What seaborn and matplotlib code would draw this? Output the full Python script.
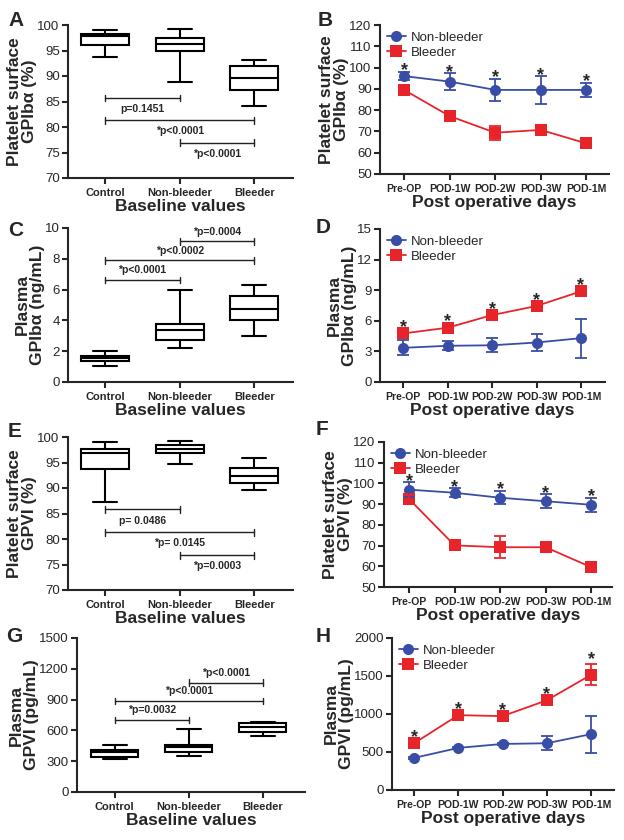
import pandas as pd
import matplotlib.pyplot as plt
import seaborn as sns

sns.set_style('ticks')
plt.rcParams['font.family'] = ['Liberation Sans', 'DejaVu Sans']
plt.rcParams['axes.linewidth'] = 1.5
plt.rcParams['xtick.major.width'] = 1.5
plt.rcParams['ytick.major.width'] = 1.5
plt.rcParams['xtick.major.size'] = 4
plt.rcParams['ytick.major.size'] = 4

LABEL_FONT = ['Liberation Sans Narrow', 'Liberation Sans', 'DejaVu Sans']

groups = ["Control", "Non-bleeder", "Bleeder"]
days = ["Pre-OP", "POD-1W", "POD-2W", "POD-3W", "POD-1M"]

# baseline box plots: five-number summary (min, q1, median, q3, max)
a_control = [93.8, 96.0, 97.9, 98.2, 99.0]
a_nonbleeder = [88.9, 95.0, 96.3, 97.4, 99.2]
a_bleeder = [84.1, 87.2, 89.7, 91.9, 93.1]
a_pvals = ["p=0.1451", "*p<0.0001", "*p<0.0001"]

c_control = [1.07, 1.37, 1.54, 1.72, 2.02]
c_nonbleeder = [2.24, 2.72, 3.37, 3.74, 5.98]
c_bleeder = [2.98, 4.02, 4.72, 5.59, 6.30]
c_pvals = ["*p<0.0001", "*p<0.0002", "*p=0.0004"]

e_control = [87.3, 93.8, 96.9, 97.7, 99.0]
e_nonbleeder = [94.8, 96.9, 97.7, 98.5, 99.2]
e_bleeder = [89.6, 91.0, 92.3, 94.0, 95.9]
e_pvals = ["p= 0.0486", "*p= 0.0145", "*p=0.0003"]

g_control = [321, 341, 390, 409, 458]
g_nonbleeder = [350, 390, 438, 458, 613]
g_bleeder = [545, 587, 636, 672, 682]
g_pvals = ["*p=0.0032", "*p<0.0001", "*p<0.0001"]

# post operative time course: mean and error
b_nb_mean = [96.0, 93.4, 89.5, 89.5, 89.5]
b_nb_err = [2.0, 3.9, 5.3, 6.4, 3.4]
b_bl_mean = [89.5, 77.2, 69.4, 70.7, 64.4]
b_bl_err = [1.0, 1.5, 3.3, 1.5, 1.0]

d_nb_mean = [3.35, 3.55, 3.6, 3.87, 4.3]
d_nb_err = [0.75, 0.45, 0.7, 0.8, 1.9]
d_bl_mean = [4.76, 5.32, 6.56, 7.45, 8.89]
d_bl_err = [0.12, 0.12, 0.12, 0.12, 0.12]

f_nb_mean = [97.0, 95.5, 93.1, 91.4, 89.7]
f_nb_err = [3.6, 2.2, 3.2, 3.3, 3.3]
f_bl_mean = [92.5, 70.1, 69.2, 69.2, 59.6]
f_bl_err = [1.7, 1.2, 5.2, 1.5, 1.5]

h_nb_mean = [422, 554, 606, 615, 735]
h_nb_err = [10, 10, 10, 95, 245]
h_bl_mean = [615, 985, 972, 1180, 1515]
h_bl_err = [15, 15, 15, 15, 137]

palette = {"Non-bleeder": "#3a4da6", "Bleeder": "#e8242b"}

W, H = 624, 840
fig = plt.figure(figsize=(W / 100, H / 100), dpi=100)


def add_ax(left, top, right, bottom):
    return fig.add_axes([left / W, 1 - bottom / H, (right - left) / W, (bottom - top) / H])


def style_ax(ax, ylim, yticks, ylabel, xlabel, xlim, xfs):
    sns.despine(ax=ax)
    ax.set_ylim(*ylim)
    ax.set_yticks(yticks)
    ax.set_xlim(*xlim)
    ax.set_ylabel(ylabel, fontsize=12.5, fontweight='bold', labelpad=0, linespacing=1.0,
                  family=LABEL_FONT)
    ax.set_xlabel(xlabel, fontsize=12.5, fontweight='bold', labelpad=1, family=LABEL_FONT)
    ax.tick_params(axis='y', labelsize=9.5, pad=2)
    ax.tick_params(axis='x', labelsize=xfs, pad=3)
    for t in ax.get_xticklabels():
        t.set_fontweight('bold')


def bracket(ax, x0, x1, y, label, offset):
    lo, hi = ax.get_ylim()
    cap = (hi - lo) * 0.022
    ax.plot([x0, x1], [y, y], color='#222222', lw=1.0)
    ax.plot([x0, x0], [y - cap, y + cap], color='#222222', lw=1.0)
    ax.plot([x1, x1], [y - cap, y + cap], color='#222222', lw=1.0)
    ax.annotate(label, xy=((x0 + x1) / 2, y), xytext=(0, offset), textcoords='offset points',
                ha='center', va='center', fontsize=7.5, fontweight='bold')


def draw_box(ax, vals, ylim, yticks, ylabel, xlim):
    rows = [(g, v) for g, arr in zip(groups, vals) for v in arr]
    df = pd.DataFrame(rows, columns=['group', 'value'])
    sns.boxplot(data=df, x='group', y='value', order=groups, whis=(0, 100), width=0.64,
                color='white', linecolor='black', linewidth=1.5, ax=ax)
    style_ax(ax, ylim, yticks, ylabel, 'Baseline values', xlim, 8)


def draw_lines(ax, nb_mean, nb_err, bl_mean, bl_err, ylim, yticks, ylabel, xlim, star_on_bleeder):
    df = pd.DataFrame({'day': days * 2, 'value': nb_mean + bl_mean,
                       'group': ['Non-bleeder'] * 5 + ['Bleeder'] * 5})
    sns.lineplot(data=df, x='day', y='value', hue='group', style='group',
                 markers={'Non-bleeder': 'o', 'Bleeder': 's'}, dashes=False, palette=palette,
                 markersize=8, linewidth=1.3, markeredgewidth=0, sort=False, ax=ax)
    xs = list(range(len(days)))
    ax.errorbar(xs, nb_mean, yerr=nb_err, fmt='none', ecolor=palette['Non-bleeder'],
                elinewidth=1.3, capsize=4, capthick=1.3)
    ax.errorbar(xs, bl_mean, yerr=bl_err, fmt='none', ecolor=palette['Bleeder'],
                elinewidth=1.3, capsize=4, capthick=1.3)
    mean, err = (bl_mean, bl_err) if star_on_bleeder else (nb_mean, nb_err)
    for x, m, e in zip(xs, mean, err):
        ax.annotate('*', xy=(x, m + e), xytext=(0, 0 if star_on_bleeder else -2.5),
                    textcoords='offset points', ha='center', va='baseline',
                    fontsize=13, fontweight='bold')
    handles, labels = ax.get_legend_handles_labels()
    ax.legend(handles, labels, loc='upper left', frameon=False, fontsize=9.5,
              handlelength=1.5, handletextpad=0.35, borderaxespad=0.1, labelspacing=0.2,
              bbox_to_anchor=(0.0, 1.0))
    style_ax(ax, ylim, yticks, ylabel, 'Post operative days', xlim, 7.5)


# A
ax = add_ax(68, 25, 293, 178)
draw_box(ax, [a_control, a_nonbleeder, a_bleeder], (70, 100), range(70, 101, 5),
         'Platelet surface\nGPIb\u03b1 (%)', (-0.5, 2.52))
bracket(ax, 0, 1, 85.7, a_pvals[0], -8)
bracket(ax, 0, 2, 81.3, a_pvals[1], -8)
bracket(ax, 1, 2, 76.9, a_pvals[2], -8)

# B
ax = add_ax(380, 25, 609, 174)
draw_lines(ax, b_nb_mean, b_nb_err, b_bl_mean, b_bl_err, (50, 120), range(50, 121, 10),
           'Platelet surface\nGPIb\u03b1 (%)', (-0.53, 4.5), False)

# C
ax = add_ax(68, 228, 293, 382)
draw_box(ax, [c_control, c_nonbleeder, c_bleeder], (0, 10), range(0, 11, 2),
         'Plasma\nGPIb\u03b1 (ng/mL)', (-0.5, 2.52))
bracket(ax, 0, 1, 6.63, c_pvals[0], 7)
bracket(ax, 0, 2, 7.89, c_pvals[1], 7)
bracket(ax, 1, 2, 9.13, c_pvals[2], 7)

# D
ax = add_ax(380, 229, 605, 382)
draw_lines(ax, d_nb_mean, d_nb_err, d_bl_mean, d_bl_err, (0, 15), range(0, 16, 3),
           'Plasma\nGPIb\u03b1 (ng/mL)', (-0.52, 4.54), True)

# E
ax = add_ax(68, 437, 293, 590)
draw_box(ax, [e_control, e_nonbleeder, e_bleeder], (70, 100), range(70, 101, 5),
         'Platelet surface\nGPVI (%)', (-0.5, 2.52))
bracket(ax, 0, 1, 85.8, e_pvals[0], -8)
bracket(ax, 0, 2, 81.3, e_pvals[1], -8)
bracket(ax, 1, 2, 76.8, e_pvals[2], -8)

# F
ax = add_ax(384, 442, 612, 587)
draw_lines(ax, f_nb_mean, f_nb_err, f_bl_mean, f_bl_err, (50, 120), range(50, 121, 10),
           'Platelet surface\nGPVI (%)', (-0.55, 4.46), False)

# G
ax = add_ax(77, 638, 305, 792)
draw_box(ax, [g_control, g_nonbleeder, g_bleeder], (0, 1500), range(0, 1501, 300),
         'Plasma\nGPVI (pg/mL)', (-0.51, 2.57))
bracket(ax, 0, 1, 701, g_pvals[0], 7)
bracket(ax, 0, 2, 887, g_pvals[1], 7)
bracket(ax, 1, 2, 1066, g_pvals[2], 7)

# H
ax = add_ax(392, 638, 614, 790)
draw_lines(ax, h_nb_mean, h_nb_err, h_bl_mean, h_bl_err, (0, 2000), range(0, 2001, 500),
           'Plasma\nGPVI (pg/mL)', (-0.5, 4.52), True)

for letter, x, y in [('A', 8, 20), ('B', 318, 20), ('C', 8, 230), ('D', 316, 228),
                     ('E', 8, 432), ('F', 316, 430), ('G', 6, 636), ('H', 316, 636)]:
    fig.text(x / W, 1 - y / H, letter, fontsize=15, fontweight='bold', va='center', ha='left')

fig.savefig('out.png', dpi=100)
